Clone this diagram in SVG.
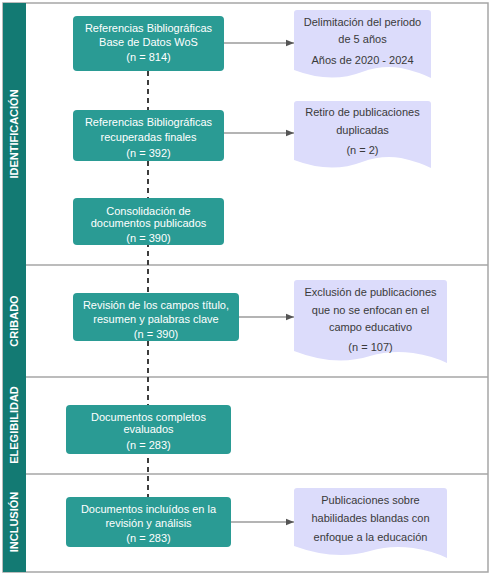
<svg xmlns="http://www.w3.org/2000/svg" width="491" height="575" viewBox="0 0 491 575">
<defs>
<style>
.lane{fill:none;stroke:#a6a6a6;stroke-width:1.5}
.strip{fill:#137a73}
.lbl{font-family:"Liberation Sans",Arial,sans-serif;font-size:11px;font-weight:bold;fill:#ffffff;text-anchor:middle}
.box{fill:#2a9b94;stroke:none}
.bt{font-family:"Liberation Sans",Arial,sans-serif;font-size:11px;fill:#ffffff;text-anchor:middle}
.doc{fill:#dcdcfb;stroke:none}
.dt{font-family:"Liberation Sans",Arial,sans-serif;font-size:11px;fill:#3a3a3a;text-anchor:middle}
.arr{fill:none;stroke:#6b6b6b;stroke-width:1.2;marker-end:url(#ah)}
.dash{fill:none;stroke:#3d3d3d;stroke-width:2;stroke-dasharray:5 4}
</style>
<marker id="ah" viewBox="0 0 10 10" refX="10" refY="5" markerWidth="10" markerHeight="8" markerUnits="userSpaceOnUse" orient="auto">
<path d="M0,1 L10,5 L0,9 Z" fill="#555"/>
</marker>
</defs>
<rect x="0" y="0" width="491" height="575" fill="#ffffff"/>
<g id="lanes">
<rect class="lane" x="3" y="3" width="485" height="569"/>
<rect class="strip" x="3" y="3" width="23" height="569"/>
<line class="lane" x1="26" y1="265" x2="488" y2="265"/>
<line class="lane" x1="26" y1="377" x2="488" y2="377"/>
<line class="lane" x1="26" y1="474" x2="488" y2="474"/>
<text class="lbl" transform="translate(18,134) rotate(-90)">IDENTIFICACIÓN</text>
<text class="lbl" transform="translate(18,321) rotate(-90)">CRIBADO</text>
<text class="lbl" transform="translate(18,425) rotate(-90)">ELEGIBILIDAD</text>
<text class="lbl" transform="translate(18,522) rotate(-90)">INCLUSIÓN</text>
</g>
<g id="connectors">
<line class="dash" x1="148" y1="71" x2="148" y2="497"/>
<line class="arr" x1="224" y1="43" x2="294" y2="43"/>
<line class="arr" x1="224" y1="133" x2="294" y2="133"/>
<line class="arr" x1="239" y1="317" x2="294" y2="317"/>
<line class="arr" x1="231" y1="522" x2="294" y2="522"/>
</g>
<g id="n1">
<rect class="box" x="73" y="16" width="151" height="55" rx="4"/>
<text class="bt" x="148.5" y="32">Referencias Bibliográficas</text>
<text class="bt" x="148.5" y="46">Base de Datos WoS</text>
<text class="bt" x="148.5" y="61">(n = 814)</text>
</g>
<g id="n2">
<rect class="box" x="73" y="110" width="151" height="51" rx="4"/>
<text class="bt" x="148.5" y="126">Referencias Bibliográficas</text>
<text class="bt" x="148.5" y="141">recuperadas finales</text>
<text class="bt" x="148.5" y="157">(n = 392)</text>
</g>
<g id="n3">
<rect class="box" x="73" y="198" width="151" height="47" rx="4"/>
<text class="bt" x="148.5" y="215">Consolidación de</text>
<text class="bt" x="148.5" y="227">documentos publicados</text>
<text class="bt" x="148.5" y="242">(n = 390)</text>
</g>
<g id="n4">
<rect class="box" x="73" y="293" width="166" height="48" rx="4"/>
<text class="bt" x="156" y="309">Revisión de los campos título,</text>
<text class="bt" x="156" y="323">resumen y palabras clave</text>
<text class="bt" x="156" y="338">(n = 390)</text>
</g>
<g id="n5">
<rect class="box" x="66" y="405" width="165" height="49" rx="4"/>
<text class="bt" x="148.5" y="421">Documentos completos</text>
<text class="bt" x="148.5" y="433">evaluados</text>
<text class="bt" x="148.5" y="449">(n = 283)</text>
</g>
<g id="n6">
<rect class="box" x="66" y="497" width="165" height="50" rx="4"/>
<text class="bt" x="148.5" y="513">Documentos incluídos en la</text>
<text class="bt" x="148.5" y="527">revisión y análisis</text>
<text class="bt" x="148.5" y="542">(n = 283)</text>
</g>
<g id="d1">
<path class="doc" d="M297,10 H428 Q431,10 431,13 V78 Q419,72 401,68 Q381,65 362,72 Q331,84 294,70 V13 Q294,10 297,10 Z"/>
<text class="dt" x="362.5" y="26">Delimitación del periodo</text>
<text class="dt" x="362.5" y="43">de 5 años</text>
<text class="dt" x="362.5" y="64">Años de 2020 - 2024</text>
</g>
<g id="d2">
<path class="doc" d="M297,101 H428 Q431,101 431,104 V168 Q419,162 401,158 Q381,155 362,162 Q331,174 294,160 V104 Q294,101 297,101 Z"/>
<text class="dt" x="362.5" y="116">Retiro de publicaciones</text>
<text class="dt" x="362.5" y="134">duplicadas</text>
<text class="dt" x="362.5" y="154">(n = 2)</text>
</g>
<g id="d3">
<path class="doc" d="M297,280 H444 Q447,280 447,283 V363 Q433,356 413,353 Q390,350 370,356 Q335,367 294,351 V283 Q294,280 297,280 Z"/>
<text class="dt" x="370.5" y="296">Exclusión de publicaciones</text>
<text class="dt" x="370.5" y="314">que no se enfocan en  el</text>
<text class="dt" x="370.5" y="331">campo educativo</text>
<text class="dt" x="370.5" y="351">(n = 107)</text>
</g>
<g id="d4">
<path class="doc" d="M297,488 H444 Q447,488 447,491 V558 Q433,551 413,548 Q390,545 370,551 Q335,561 294,546 V491 Q294,488 297,488 Z"/>
<text class="dt" x="370.5" y="504">Publicaciones sobre</text>
<text class="dt" x="370.5" y="522">habilidades blandas con</text>
<text class="dt" x="370.5" y="541">enfoque a la educación</text>
</g>
</svg>
